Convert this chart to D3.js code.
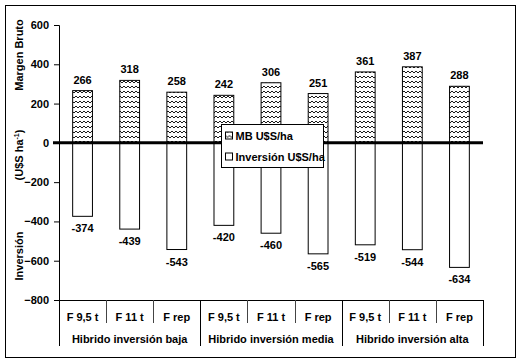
<!DOCTYPE html>
<html lang="en">
<head>
<meta charset="UTF-8">
<title>Margen bruto e inversión</title>
<script src="https://d3js.org/d3.v7.min.js"></script>
<style>
    body { margin: 0; background: #fff; }
    svg text {
        font-family: "Liberation Sans", Arial, sans-serif;
        font-weight: bold;
        font-size: 11px;
        fill: #000;
    }
</style>
</head>
<body>
<div id="chart"></div>
<script>
    // data
    const groups = ["Hibrido inversión baja", "Hibrido inversión media", "Hibrido inversión alta"];
    const treatments = ["F 9,5 t", "F 11 t", "F rep"];
    const margen = [266, 318, 258, 242, 306, 251, 361, 387, 288];
    const inversion = [-374, -439, -543, -420, -460, -565, -519, -544, -634];
    const yTicks = [600, 400, 200, 0, -200, -400, -600, -800];

    const W = 520, H = 362;
    const plot = { left: 59, right: 483, top: 25, bottom: 300 };

    const svg = d3.select("#chart").append("svg")
        .attr("width", W)
        .attr("height", H);

    // wavy fill used by the MB bars
    const pat = svg.append("defs").append("pattern")
        .attr("id", "wave")
        .attr("patternUnits", "userSpaceOnUse")
        .attr("width", 4)
        .attr("height", 5);
    pat.append("rect").attr("width", 4).attr("height", 5).attr("fill", "#fff");
    pat.append("path")
        .attr("d", "M0,1 L2,3 L4,1")
        .attr("fill", "none")
        .attr("stroke", "#000")
        .attr("stroke-width", 0.9);

    // outer frame
    svg.append("rect")
        .attr("x", 5.5).attr("y", 5.5)
        .attr("width", 510).attr("height", 352)
        .attr("fill", "#fff")
        .attr("stroke", "#000")
        .attr("stroke-width", 1);

    const cats = d3.range(margen.length);
    const x = d3.scaleBand().domain(cats).range([plot.left, plot.right]).paddingInner(0.58).paddingOuter(0.29);
    const xBand = d3.scaleBand().domain(cats).range([plot.left, plot.right]);
    const y = d3.scaleLinear().domain([-800, 600]).range([plot.bottom, plot.top]);

    // y axis
    const yAxis = svg.append("g")
        .attr("transform", `translate(${plot.left},0)`)
        .call(d3.axisLeft(y).tickValues(yTicks).tickSize(5).tickPadding(5));
    yAxis.select(".domain").attr("stroke", "#000");
    yAxis.selectAll(".tick line").attr("stroke", "#000");
    yAxis.selectAll("text").style("font-size", "11px");

    // bottom axis line
    svg.append("line")
        .attr("x1", plot.left).attr("x2", plot.right)
        .attr("y1", y(-800) + 0.5).attr("y2", y(-800) + 0.5)
        .attr("stroke", "#000");

    // y axis extends down to the group row
    svg.append("line")
        .attr("x1", plot.left + 0.5).attr("x2", plot.left + 0.5)
        .attr("y1", plot.bottom).attr("y2", 346)
        .attr("stroke", "#000");

    // category separators
    cats.slice(1).forEach(i => {
        const xs = Math.round(xBand(i)) + 0.5;
        svg.append("line")
            .attr("x1", xs).attr("x2", xs)
            .attr("y1", plot.bottom).attr("y2", i % 3 === 0 ? 346 : 323)
            .attr("stroke", i % 3 === 0 ? "#000" : "#444");
    });
    svg.append("line")
        .attr("x1", plot.right + 0.5).attr("x2", plot.right + 0.5)
        .attr("y1", plot.bottom).attr("y2", 346)
        .attr("stroke", "#000");

    // category labels
    svg.selectAll(".cat-label")
        .data(cats)
        .join("text")
        .attr("class", "cat-label")
        .attr("x", i => xBand(i) + xBand.bandwidth() / 2)
        .attr("y", 321)
        .attr("text-anchor", "middle")
        .text(i => treatments[i % 3]);

    // group labels
    svg.selectAll(".group-label")
        .data(groups)
        .join("text")
        .attr("class", "group-label")
        .attr("x", (d, g) => xBand(g * 3) + xBand.bandwidth() * 1.5)
        .attr("y", 343)
        .attr("text-anchor", "middle")
        .text(d => d);

    // MB bars
    svg.selectAll(".mb")
        .data(margen)
        .join("rect")
        .attr("class", "mb")
        .attr("x", (d, i) => x(i))
        .attr("width", x.bandwidth())
        .attr("y", d => y(d))
        .attr("height", d => y(0) - y(d))
        .attr("fill", "url(#wave)")
        .attr("stroke", "#000")
        .attr("stroke-width", 1);

    // investment bars
    svg.selectAll(".inv")
        .data(inversion)
        .join("rect")
        .attr("class", "inv")
        .attr("x", (d, i) => x(i))
        .attr("width", x.bandwidth())
        .attr("y", y(0))
        .attr("height", d => y(d) - y(0))
        .attr("fill", "#fff")
        .attr("stroke", "#000")
        .attr("stroke-width", 1);

    // value labels
    svg.selectAll(".mb-label")
        .data(margen)
        .join("text")
        .attr("class", "mb-label")
        .attr("x", (d, i) => x(i) + x.bandwidth() / 2)
        .attr("y", d => y(d) - 7)
        .attr("text-anchor", "middle")
        .text(d => d);

    svg.selectAll(".inv-label")
        .data(inversion)
        .join("text")
        .attr("class", "inv-label")
        .attr("x", (d, i) => x(i) + x.bandwidth() / 2)
        .attr("y", d => y(d) + 16)
        .attr("text-anchor", "middle")
        .text(d => d);

    // zero line
    svg.append("line")
        .attr("x1", plot.left - 6).attr("x2", plot.right)
        .attr("y1", y(0)).attr("y2", y(0))
        .attr("stroke", "#000")
        .attr("stroke-width", 3);

    // y axis titles
    const yTitles = [
        { text: "Margen Bruto", cy: 55 },
        { text: "(U$S ha", sup: "-1", tail: ")", cy: 155 },
        { text: "Inversión", cy: 256 }
    ];
    yTitles.forEach(t => {
        const tx = svg.append("text")
            .attr("transform", `translate(23,${t.cy}) rotate(-90)`)
            .attr("text-anchor", "middle");
        tx.append("tspan").text(t.text);
        if (t.sup) {
            tx.append("tspan").attr("dy", -4).style("font-size", "7px").text(t.sup);
            tx.append("tspan").attr("dy", 4).text(t.tail);
        }
    });

    // legend
    const leg = svg.append("g").attr("transform", "translate(221.5,124.5)");
    leg.append("rect")
        .attr("width", 102).attr("height", 43)
        .attr("fill", "#fff")
        .attr("stroke", "#000");
    const legItems = [
        { label: "MB U$S/ha", fill: "url(#wave)" },
        { label: "Inversión U$S/ha", fill: "#fff" }
    ];
    legItems.forEach((d, i) => {
        const gy = 11 + i * 21;
        leg.append("rect")
            .attr("x", 4).attr("y", gy - 3.5)
            .attr("width", 7).attr("height", 7)
            .attr("fill", d.fill)
            .attr("stroke", "#000");
        leg.append("text")
            .attr("x", 14).attr("y", gy + 4)
            .text(d.label);
    });
</script>
</body>
</html>
